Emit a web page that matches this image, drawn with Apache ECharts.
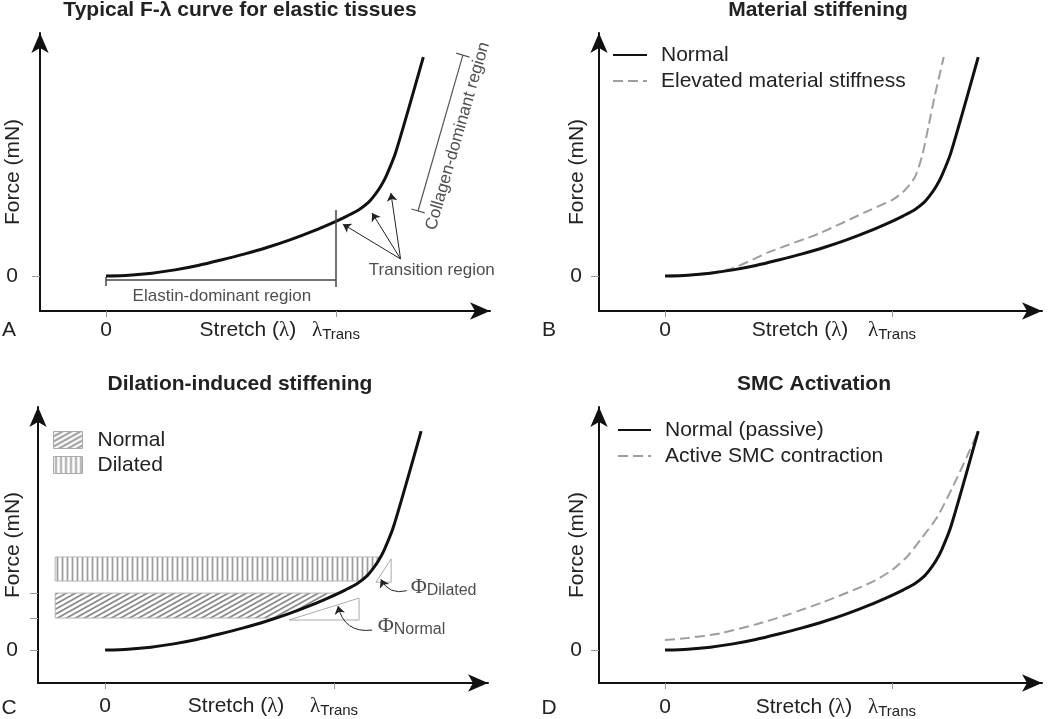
<!DOCTYPE html>
<html><head><meta charset="utf-8">
<script src="https://cdn.jsdelivr.net/npm/echarts@6/dist/echarts.min.js"></script>
<style>html,body{margin:0;padding:0;background:#fff}#c{width:1050px;height:719px}</style>
</head><body><div id="c"></div>
<script>
// ---------- DATA ----------
const normalX = [0, 0.1, 0.2, 0.3, 0.4, 0.5, 0.6, 0.7, 0.8, 0.9, 1.0, 1.05, 1.1, 1.14, 1.17, 1.195, 1.22, 1.26, 1.38];
const normalY = [0, 0.04, 0.13, 0.28, 0.48, 0.73, 1.0, 1.3, 1.65, 2.05, 2.5, 2.75, 3.03, 3.35, 3.72, 4.1, 4.6, 5.65, 10.0];
const elevatedX = [0, 0.1, 0.2, 0.3, 0.46, 0.68, 0.9, 1.0, 1.05, 1.1, 1.133, 1.162, 1.19, 1.228];
const elevatedY = [0, 0.04, 0.15, 0.36, 1.1, 1.95, 3.0, 3.47, 3.85, 4.5, 5.5, 6.9, 8.3, 10.0];
const activeX = [0, 0.1, 0.242, 0.4, 0.536, 0.7, 0.831, 0.92, 1.0, 1.066, 1.13, 1.2, 1.27, 1.33, 1.379];
const activeY = [0.46, 0.55, 0.76, 1.17, 1.6, 2.2, 2.74, 3.15, 3.65, 4.26, 5.1, 6.09, 7.5, 8.83, 9.97];
const xTickValues = [0, 1];               // 0 and lambda_Trans
const yTickValuesC = [0, 1.46, 2.6];
// bands in panel C: [left x, low y, high y]
const bandNormal = [-0.218, 1.46, 2.6];
const bandDilated = [-0.218, 3.15, 4.25];
// slope triangles in panel C
const triNormalX = [0.803, 1.109, 1.109, 0.803];
const triNormalY = [1.37, 1.37, 2.37, 1.37];
const triDilatedX = [1.183, 1.249, 1.249, 1.183];
const triDilatedY = [3.1, 3.1, 4.16, 3.1];
// panel A annotations
const elastinSegs = [[[0, -0.05], [0, -0.46]], [[0, -0.18], [1, -0.18]], [[1, 3.01], [1, -0.5]]];
const collagenSegs = [[[1.357, 2.97], [1.552, 10.09]], [[1.328, 3.059], [1.386, 2.881]], [[1.523, 10.179], [1.581, 10.001]]];
const transitionFrom = [1.281, 0.78];
const transitionTo = [[1.030, 2.37], [1.157, 2.88], [1.239, 3.79]];
const phiArrows = [[[1.317, 2.71], [1.204, 3.23]], [[1.166, 0.91], [1.017, 2.01]]];

// ---------- HELPERS ----------
const FF = '"Liberation Sans", Arial, sans-serif';
const INK = '#222';
const zip = (xs, ys) => xs.map((x, i) => [x, ys[i]]);
function xAtY(y) {
  for (let i = 1; i < normalY.length; i++) {
    if (normalY[i] >= y) {
      const t = (y - normalY[i - 1]) / (normalY[i] - normalY[i - 1]);
      return normalX[i - 1] + t * (normalX[i] - normalX[i - 1]);
    }
  }
  return normalX[normalX.length - 1];
}
function makePattern(kind) {
  const c = document.createElement('canvas');
  const g = c.getContext('2d');
  if (kind === 'diag') {
    const W = 9, H = 5;
    c.width = W; c.height = H;
    g.fillStyle = '#fff'; g.fillRect(0, 0, W, H);
    g.strokeStyle = '#8c8c8c'; g.lineWidth = 1.8; g.beginPath();
    for (let k = -1; k <= 2; k++) {
      // line x/W + y/H = k
      g.moveTo(W * k + W / H, -1); g.lineTo(W * k - W * (H + 1) / H, H + 1);
    }
    g.stroke();
  } else {
    c.width = 5; c.height = 5;
    g.fillStyle = '#fff'; g.fillRect(0, 0, 5, 5);
    g.strokeStyle = '#9d9d9d'; g.lineWidth = 1.8; g.beginPath();
    g.moveTo(2.5, 0); g.lineTo(2.5, 5); g.stroke();
  }
  return { image: c, repeat: 'repeat' };
}
const diagPat = makePattern('diag');
const vertPat = makePattern('vert');

const grids = [
  { left: 40, top: 33, width: 450, height: 278 },
  { left: 599, top: 33, width: 443, height: 278 },
  { left: 38, top: 407, width: 450, height: 276 },
  { left: 599, top: 407, width: 443, height: 276 }
];
const xRanges = [[-0.287, 1.67], [-0.291, 1.661], [-0.293, 1.672], [-0.291, 1.661]];
const yRanges = [[-1.598, 11.1], [-1.598, 11.1], [-1.507, 11.1], [-1.507, 11.1]];
const stretchPos = [0.617, 0.595, 0.572, 0.612];
const xLabelMargin = [7, 7, 11, 12];
const yLabelMargin = [22, 17, 20, 17];
const yNameGap = [16, 11, 14, 11];

const rich = {
  t: { fontSize: 21, fontFamily: FF, color: INK, lineHeight: 24 },
  g: { fontSize: 21, fontFamily: '"Liberation Serif", serif', color: INK, lineHeight: 24 },
  s: { fontSize: 15, fontFamily: FF, color: INK, lineHeight: 15, verticalAlign: 'bottom' },
  sub: { fontSize: 16, fontFamily: FF, color: INK, lineHeight: 15, verticalAlign: 'bottom' },
  phi: { fontSize: 22, fontFamily: '"Liberation Serif", serif', color: INK, lineHeight: 24 }
};

const xAxes = grids.map((g, i) => ({
  type: 'value', gridIndex: i, min: xRanges[i][0], max: xRanges[i][1],
  splitLine: { show: false },
  axisLine: { show: true, onZero: false, symbol: ['none', 'arrow'], symbolSize: [13, 20], lineStyle: { color: '#111', width: 2 } },
  axisTick: { show: true, customValues: xTickValues, length: 6, lineStyle: { color: '#999', width: 1 } },
  axisLabel: {
    show: true, customValues: [0, stretchPos[i], 1], margin: xLabelMargin[i], fontSize: 21, fontFamily: FF, color: INK,
    formatter: v => Math.abs(v) < 1e-9 ? '{t|0}' : (Math.abs(v - 1) < 1e-9 ? '{g|λ}{s|Trans}' : '{t|Stretch (}{g|λ}{t|)}'),
    rich
  }
}));
const yAxes = grids.map((g, i) => ({
  type: 'value', gridIndex: i, min: yRanges[i][0], max: yRanges[i][1],
  splitLine: { show: false },
  axisLine: { show: true, onZero: false, symbol: ['none', 'arrow'], symbolSize: [13, 20], lineStyle: { color: '#111', width: 2 } },
  axisTick: { show: true, customValues: i === 2 ? yTickValuesC : [0], length: 8, lineStyle: { color: '#999', width: 1 } },
  axisLabel: { show: true, customValues: [0], formatter: () => '0', margin: yLabelMargin[i], fontSize: 21, fontFamily: FF, color: INK },
  name: 'Force (mN)', nameLocation: 'middle', nameRotate: 90, nameGap: yNameGap[i], nameMoveOverlap: false,
  nameTextStyle: { fontSize: 21, fontFamily: FF, color: INK }
}));

function curve(name, i, xs, ys, dashed) {
  return {
    type: 'line', name, xAxisIndex: i, yAxisIndex: i, data: zip(xs, ys), symbol: 'none', smooth: 0.25, silent: true,
    lineStyle: dashed ? { color: '#9e9e9e', width: 2, type: [10, 5] } : { color: '#111', width: 3 },
    itemStyle: { color: dashed ? '#9e9e9e' : '#111' }, z: dashed ? 2 : 3
  };
}
function segs(i, list, color, width, arrow, curv) {
  return {
    type: 'lines', coordinateSystem: 'cartesian2d', xAxisIndex: i, yAxisIndex: i, silent: true,
    symbol: arrow ? ['none', 'arrow'] : ['none', 'none'], symbolSize: 8,
    lineStyle: { color, width, opacity: 1, curveness: 0 },
    data: list.map((c, k) => ({ coords: c, lineStyle: { curveness: curv ? curv[k] : 0 } })), z: 4
  };
}
function texts(i, items) {
  return {
    type: 'scatter', xAxisIndex: i, yAxisIndex: i, symbolSize: 1, silent: true,
    itemStyle: { color: 'rgba(0,0,0,0)' }, z: 5,
    data: items.map(it => ({
      value: [it.x, it.y],
      label: { show: true, position: it.pos || 'inside', distance: 0, formatter: it.text, rotate: it.rot || 0,
        fontSize: it.size || 17, fontFamily: FF, color: INK, rich }
    }))
  };
}
function band(name, b, pat, i) {
  return {
    type: 'custom', name, xAxisIndex: i, yAxisIndex: i, silent: true, z: 1,
    data: [b], encode: { x: 0, y: [1, 2] },
    itemStyle: { color: pat, borderColor: '#b0b0b0', borderWidth: 1 },
    renderItem: (params, api) => {
      const xl = api.value(0), lo = api.value(1), hi = api.value(2);
      const pts = [api.coord([xl, lo]), api.coord([xAtY(lo), lo])];
      normalY.forEach((y, k) => { if (y > lo && y < hi) pts.push(api.coord([normalX[k], y])); });
      pts.push(api.coord([xAtY(hi), hi]));
      pts.push(api.coord([xl, hi]));
      return { type: 'polygon', shape: { points: pts }, style: { fill: pat, stroke: '#b5b5b5', lineWidth: 1 } };
    }
  };
}

const series = [
  // Panel A
  curve('A curve', 0, normalX, normalY, false),
  segs(0, elastinSegs, '#444', 1.5, false),
  segs(0, collagenSegs, '#555', 1.2, false),
  segs(0, transitionTo.map(t => [transitionFrom, t]), '#222', 1, true),
  texts(0, [
    { x: 0.504, y: -0.91, text: 'Elastin-dominant region' },
    { x: 1.417, y: 0.25, text: 'Transition region' },
    { x: 1.530, y: 6.39, text: 'Collagen-dominant region', rot: 74 }
  ]),
  // Panel B
  curve('Elevated material stiffness', 1, elevatedX, elevatedY, true),
  curve('Normal', 1, normalX, normalY, false),
  // Panel C
  band('Normal ', bandNormal, diagPat, 2),
  band('Dilated', bandDilated, vertPat, 2),
  { type: 'line', xAxisIndex: 2, yAxisIndex: 2, data: zip(triNormalX, triNormalY), symbol: 'none', silent: true, lineStyle: { color: '#aaa', width: 1 }, z: 2 },
  { type: 'line', xAxisIndex: 2, yAxisIndex: 2, data: zip(triDilatedX, triDilatedY), symbol: 'none', silent: true, lineStyle: { color: '#aaa', width: 1 }, z: 2 },
  curve('C curve', 2, normalX, normalY, false),
  segs(2, phiArrows, '#222', 1, true, [0.4, 0.45]),
  texts(2, [
    { x: 1.332, y: 2.88, text: '{phi|Φ}{sub|Dilated}', pos: 'right' },
    { x: 1.188, y: 1.10, text: '{phi|Φ}{sub|Normal}', pos: 'right' }
  ]),
  // Panel D
  curve('Active SMC contraction', 3, activeX, activeY, true),
  curve('Normal (passive)', 3, normalX, normalY, false)
];

const legendText = { fontSize: 21, fontFamily: FF, color: INK, lineHeight: 21, padding: [0, 0, 0, 9] };
const option = {
  animation: false,
  grid: grids.map(g => Object.assign({ containLabel: false }, g)),
  xAxis: xAxes, yAxis: yAxes, series,
  legend: [
    { data: ['Normal', 'Elevated material stiffness'], orient: 'vertical', left: 612, top: 44.5, itemWidth: 34, itemHeight: 14, itemGap: 5, padding: 0, selectedMode: false, textStyle: legendText, itemStyle: { opacity: 0 } },
    { data: [
        { name: 'Normal ', icon: 'rect', itemStyle: { color: diagPat, borderColor: '#aaa', borderWidth: 1 } },
        { name: 'Dilated', icon: 'rect', itemStyle: { color: vertPat, borderColor: '#aaa', borderWidth: 1 } }
      ], orient: 'vertical', left: 53, top: 429.5, itemWidth: 29, itemHeight: 17, itemGap: 4, padding: 0, selectedMode: false,
      textStyle: Object.assign({}, legendText, { padding: [0, 0, 0, 10] }) },
    { data: ['Normal (passive)', 'Active SMC contraction'], orient: 'vertical', left: 617, top: 419.5, itemWidth: 33, itemHeight: 14, itemGap: 5, padding: 0, selectedMode: false, textStyle: legendText, itemStyle: { opacity: 0 } }
  ],
  graphic: [
    ['Typical F-λ curve for elastic tissues', 240, 10],
    ['Material stiffening', 818, 10],
    ['Dilation-induced stiffening', 240, 384],
    ['SMC Activation', 814, 384]
  ].map(([t, x, y]) => ({ type: 'text', x, y, silent: true,
      style: { text: t, font: 'bold 21px "Liberation Sans", Arial, sans-serif', fill: INK, textAlign: 'center', textVerticalAlign: 'middle', align: 'center', verticalAlign: 'middle' } }))
    .concat([['A', 9, 330], ['B', 549, 330], ['C', 9, 708], ['D', 549, 708]].map(([t, x, y]) => ({
      type: 'text', x, y, silent: true,
      style: { text: t, font: '21px "Liberation Sans", Arial, sans-serif', fill: INK, textAlign: 'center', textVerticalAlign: 'middle', align: 'center', verticalAlign: 'middle' } })))
};
const chart = echarts.init(document.getElementById('c'), null, { renderer: 'canvas' });
chart.setOption(option);
</script></body></html>
